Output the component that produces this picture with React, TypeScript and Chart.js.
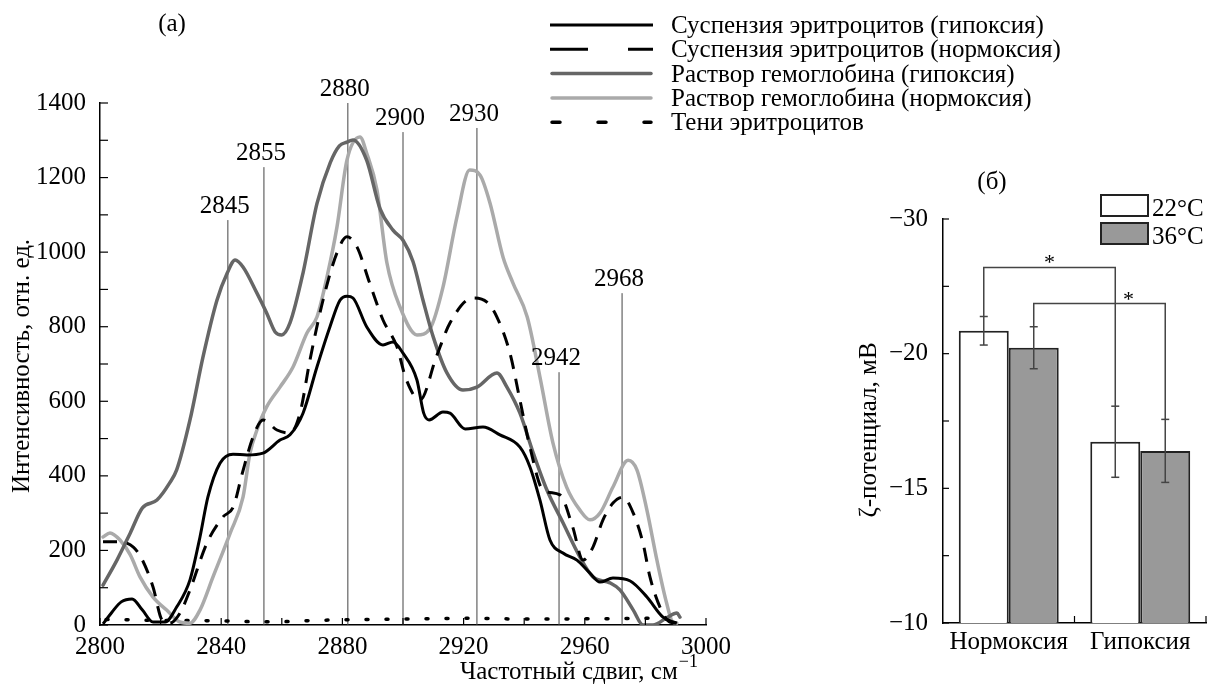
import React, { useEffect, useRef } from 'react';
import { Chart, registerables } from 'chart.js';

Chart.register(...registerables);

const FONT = '"Liberation Serif", "Times New Roman", serif';
const FS = 25;

// ---------- Panel (а): Raman spectra ----------
const legendLabelsA = [
  'Суспензия эритроцитов (гипоксия)',
  'Суспензия эритроцитов (нормоксия)',
  'Раствор гемоглобина (гипоксия)',
  'Раствор гемоглобина (нормоксия)',
  'Тени эритроцитов',
];

const susHypX = [2801, 2804, 2807, 2810.6, 2814, 2817.5, 2821.5, 2825.3, 2829.7, 2833, 2835.6, 2839.6, 2843.9, 2848.5, 2853.8, 2859.4, 2862.7, 2867, 2871.6, 2875.9, 2879.2, 2881.5, 2883.5, 2888, 2893.4, 2896.7, 2900, 2904.6, 2906.8, 2908.6, 2913.2, 2915.5, 2920.5, 2926.4, 2932, 2938.6, 2941.9, 2945.2, 2948.5, 2952.8, 2957.4, 2961.7, 2965, 2969.3, 2975, 2980.5, 2985.8, 2990.4];
const susHypY = [3, 35, 62, 70, 40, 8, 8, 48, 121, 236, 343, 434, 458, 456, 461, 496, 510, 568, 692, 800, 871, 882, 877, 800, 751, 759, 729, 657, 569, 550, 571, 568, 526, 531, 510, 477, 424, 335, 228, 193, 174, 139, 115, 126, 118, 75, 21, 5];

const susNorX = [2801, 2805.6, 2811, 2814, 2817.5, 2820.5, 2823, 2826.4, 2829.7, 2835.3, 2840.6, 2844, 2847, 2850.5, 2853.8, 2858.4, 2862.7, 2866, 2869.3, 2873.6, 2878.2, 2881.5, 2884.8, 2889, 2893.4, 2898, 2901, 2905.6, 2911, 2915.5, 2923, 2927.7, 2931, 2935.3, 2938.6, 2941.9, 2946.2, 2951.8, 2956, 2959.4, 2962.7, 2966, 2969.3, 2972.6, 2976, 2979.2, 2981.5, 2984.8, 2988, 2991.4];
const susNorY = [223, 223, 209, 174, 102, 13, 5, 32, 94, 220, 290, 317, 408, 504, 550, 523, 515, 568, 711, 871, 998, 1041, 1014, 917, 818, 746, 660, 603, 719, 810, 877, 866, 826, 729, 603, 477, 362, 349, 263, 174, 209, 282, 327, 343, 300, 220, 129, 48, 8, 5];

const hbHypX = [2801, 2805.6, 2810, 2814, 2818.8, 2823, 2825.3, 2829.7, 2834, 2838.6, 2842, 2844.6, 2847.2, 2851.8, 2855, 2857.8, 2860, 2862.7, 2867, 2871.6, 2876, 2879, 2881.5, 2883.5, 2888, 2892.4, 2896.7, 2900, 2903.3, 2906.6, 2910, 2914.5, 2919.8, 2924.4, 2931, 2934.3, 2938.6, 2943, 2947.5, 2952.8, 2958.4, 2962.7, 2968.3, 2971.6, 2976, 2979.2, 2982.5, 2987, 2990.4, 2991.4];
const hbHypY = [107, 174, 247, 314, 335, 381, 416, 550, 719, 871, 944, 979, 960, 890, 837, 786, 778, 810, 944, 1130, 1240, 1285, 1295, 1301, 1247, 1117, 1059, 1032, 975, 871, 772, 676, 630, 638, 676, 638, 568, 461, 362, 274, 182, 129, 113, 94, 40, 0, 0, 19, 32, 21];

const hbNorX = [2801, 2803.3, 2806.6, 2810, 2813.2, 2817.5, 2822, 2826.4, 2829.7, 2833, 2837.3, 2843, 2847.2, 2849.5, 2851.8, 2855, 2859.4, 2863.7, 2868.3, 2871.6, 2874.9, 2878.2, 2881.5, 2885.8, 2888, 2891.4, 2894.7, 2899, 2904.6, 2909, 2913.2, 2917.8, 2922, 2925.4, 2928.7, 2933, 2936.3, 2941, 2945.2, 2949.5, 2954, 2958.4, 2961.7, 2965, 2969.3, 2974.3, 2977.2, 2980.5, 2983.8, 2987, 2989, 2990.4];
const hbNorY = [236, 247, 228, 188, 129, 75, 40, 8, 5, 40, 129, 247, 343, 461, 523, 585, 638, 692, 783, 826, 933, 1067, 1247, 1309, 1266, 1167, 971, 853, 778, 796, 906, 1094, 1220, 1207, 1132, 987, 917, 826, 665, 488, 370, 308, 282, 300, 370, 442, 416, 308, 174, 59, 8, 5];

const ghostX = [2802, 2810, 2820, 2830, 2840, 2850, 2860, 2870, 2880, 2890, 2900, 2910, 2920, 2930, 2940, 2950, 2960, 2970, 2980, 2990];
const ghostY = [15, 14, 12, 12, 11, 9, 9, 12, 14, 15, 16, 17, 18, 17, 16, 16, 17, 17, 18, 14];

const refLineX = [2842.2, 2854.1, 2881.8, 2900, 2924.4, 2951.5, 2972.3];
const refLineTop = [1086, 1228, 1400, 1322, 1333, 678, 890];
const refLineLabels = ['2845', '2855', '2880', '2900', '2930', '2942', '2968'];

const xTicksA = [2800, 3000];
const yTicksA = [0, 1400];

// ---------- Panel (б): zeta potential ----------
const barCategories = ['Нормоксия', 'Гипоксия'];
const barLegend = ['22°C', '36°C'];
const zeta22 = [-20.85, -16.73];
const zeta36 = [-20.22, -16.39];
const err22 = [0.53, 1.32];
const err36 = [0.78, 1.17];
const barTickValues = [-10, -15, -20, -25];
const barTickLabels = ['−10', '−15', '−20', '−30'];
const bracketLevels = [-23.2, -21.86];

const styleA = [
  { color: '#000000', width: 3, dash: [] as number[], legendDash: [] as number[], cap: 'butt' },
  { color: '#000000', width: 3, dash: [14, 10], legendDash: [38, 40], cap: 'butt' },
  { color: '#666666', width: 3.5, dash: [] as number[], legendDash: [] as number[], cap: 'round' },
  { color: '#aaaaaa', width: 3.5, dash: [] as number[], legendDash: [] as number[], cap: 'round' },
  { color: '#000000', width: 3.5, dash: [2, 18], legendDash: [8, 38], cap: 'round' },
];

const zip = (xs: number[], ys: number[]) => xs.map((x, i) => ({ x, y: ys[i] }));

function drawLine(ctx: CanvasRenderingContext2D, x1: number, y1: number, x2: number, y2: number) {
  ctx.beginPath();
  ctx.moveTo(x1, y1);
  ctx.lineTo(x2, y2);
  ctx.stroke();
}

const panelAPlugin = {
  id: 'panelA',
  afterDraw(chart: any) {
    const { ctx, chartArea, scales } = chart;
    const xs = scales.x;
    const ys = scales.y;
    ctx.save();
    ctx.strokeStyle = '#000';
    ctx.lineWidth = 1.2;
    for (let v = yTicksA[0]; v <= yTicksA[1]; v += 100) {
      const y = ys.getPixelForValue(v);
      drawLine(ctx, chartArea.left, y, chartArea.left + 8, y);
    }
    for (let v = xTicksA[0]; v <= xTicksA[1]; v += 20) {
      const x = xs.getPixelForValue(v);
      drawLine(ctx, x, chartArea.bottom, x, chartArea.bottom - 7);
    }
    ctx.fillStyle = '#000';
    ctx.font = `${FS}px ${FONT}`;
    ctx.textAlign = 'center';
    ctx.textBaseline = 'alphabetic';
    refLineX.forEach((v, i) => {
      ctx.fillText(refLineLabels[i], xs.getPixelForValue(v) - 3, ys.getPixelForValue(refLineTop[i]) - 7);
    });
    ctx.fillText('(а)', 172, 31);

    // legend
    const lx1 = 550, lx2 = 653;
    legendLabelsA.forEach((lab, i) => {
      const y = 25 + i * 24.3;
      const s = styleA[i];
      ctx.save();
      ctx.strokeStyle = s.color;
      ctx.lineWidth = s.width;
      ctx.lineCap = s.cap as CanvasLineCap;
      ctx.setLineDash(s.legendDash);
      drawLine(ctx, lx1 + (s.cap === 'round' ? 2 : 0), y, lx2 - (s.cap === 'round' ? 2 : 0), y);
      ctx.restore();
      ctx.font = `${FS}px ${FONT}`;
      ctx.textAlign = 'left';
      ctx.fillText(lab, 671, y + 8);
    });

    // y title
    ctx.save();
    ctx.font = `${FS}px ${FONT}`;
    ctx.translate(22, 366);
    ctx.rotate(-Math.PI / 2);
    ctx.textAlign = 'center';
    ctx.textBaseline = 'middle';
    ctx.fillText('Интенсивность, отн. ед.', 0, 0);
    ctx.restore();

    // x title
    ctx.font = `${FS}px ${FONT}`;
    ctx.textAlign = 'left';
    const main = 'Частотный сдвиг, см';
    ctx.fillText(main, 460, 679);
    const w = ctx.measureText(main).width;
    ctx.font = `18px ${FONT}`;
    ctx.fillText('−1', 460 + w + 1, 667);
    ctx.restore();
  },
};

const panelBPlugin = {
  id: 'panelB',
  afterDraw(chart: any) {
    const { ctx, chartArea, scales } = chart;
    const xs = scales.x;
    const ys = scales.y;
    ctx.save();
    ctx.strokeStyle = '#000';
    ctx.lineWidth = 1.2;
    for (let v = -25; v <= -10 + 1e-6; v += 2.5) {
      const y = ys.getPixelForValue(v);
      drawLine(ctx, chartArea.left, y, chartArea.left + 6, y);
    }
    const mid = (xs.getPixelForValue(0) + xs.getPixelForValue(1)) / 2;
    drawLine(ctx, mid, chartArea.bottom, mid, chartArea.bottom - 7);
    drawLine(ctx, chartArea.right, chartArea.bottom, chartArea.right, chartArea.bottom - 7);

    const vals = [zeta22, zeta36];
    const errs = [err22, err36];
    // error bars
    ctx.strokeStyle = '#444';
    ctx.lineWidth = 1.5;
    for (let d = 0; d < 2; d++) {
      const meta = chart.getDatasetMeta(d);
      meta.data.forEach((bar: any, j: number) => {
        const top = ys.getPixelForValue(vals[d][j] - errs[d][j]);
        const bot = ys.getPixelForValue(vals[d][j] + errs[d][j]);
        drawLine(ctx, bar.x, top, bar.x, bot);
        drawLine(ctx, bar.x - 4, top, bar.x + 4, top);
        drawLine(ctx, bar.x - 4, bot, bar.x + 4, bot);
      });
    }
    // significance brackets
    const starFrac = [0.5, 0.72];
    ctx.fillStyle = '#000';
    for (let d = 0; d < 2; d++) {
      const meta = chart.getDatasetMeta(d);
      const x1 = meta.data[0].x;
      const x2 = meta.data[1].x;
      const yl = ys.getPixelForValue(bracketLevels[d]);
      const y1 = ys.getPixelForValue(vals[d][0] - errs[d][0]);
      const y2 = ys.getPixelForValue(vals[d][1] - errs[d][1]);
      ctx.beginPath();
      ctx.moveTo(x1, y1);
      ctx.lineTo(x1, yl);
      ctx.lineTo(x2, yl);
      ctx.lineTo(x2, y2);
      ctx.stroke();
      ctx.font = `22px ${FONT}`;
      ctx.textAlign = 'center';
      ctx.textBaseline = 'alphabetic';
      ctx.fillText('*', x1 + (x2 - x1) * starFrac[d], yl + 2);
    }

    // legend
    const fills = ['#ffffff', '#999999'];
    const boxY = [195, 223];
    barLegend.forEach((lab, i) => {
      ctx.fillStyle = fills[i];
      ctx.fillRect(271, boxY[i], 47, 21);
      ctx.strokeStyle = '#222';
      ctx.lineWidth = 2;
      ctx.strokeRect(271, boxY[i], 47, 21);
      ctx.fillStyle = '#000';
      ctx.font = `${FS}px ${FONT}`;
      ctx.textAlign = 'left';
      ctx.fillText(lab, 322, boxY[i] + 21);
    });

    ctx.font = `${FS}px ${FONT}`;
    ctx.textAlign = 'center';
    ctx.fillText('(б)', 162, 189);

    ctx.save();
    ctx.translate(39, 430);
    ctx.rotate(-Math.PI / 2);
    ctx.textBaseline = 'middle';
    ctx.fillText('ζ-потенциал, мВ', 0, 0);
    ctx.restore();
    ctx.restore();
  },
};

export default function App() {
  const refA = useRef<HTMLCanvasElement>(null);
  const refB = useRef<HTMLCanvasElement>(null);

  useEffect(() => {
    document.body.style.margin = '0';
    const seriesX = [susHypX, susNorX, hbHypX, hbNorX, ghostX];
    const seriesY = [susHypY, susNorY, hbHypY, hbNorY, ghostY];
    const curveSets: any[] = legendLabelsA.map((lab, i) => ({
      label: lab,
      data: zip(seriesX[i], seriesY[i]),
      borderColor: styleA[i].color,
      borderWidth: styleA[i].width,
      borderDash: styleA[i].dash,
      borderCapStyle: styleA[i].cap,
      pointRadius: 0,
      fill: false,
      cubicInterpolationMode: 'monotone',
    }));
    const refSets = refLineX.map((x, i) => ({
      label: 'ref' + refLineLabels[i],
      data: [{ x, y: 0 }, { x, y: refLineTop[i] }],
      borderColor: '#444',
      borderWidth: 1,
      pointRadius: 0,
      fill: false,
    }));

    const chartA = new Chart(refA.current!, {
      type: 'line',
      data: { datasets: [...curveSets, ...refSets] },
      options: {
        animation: false,
        responsive: false,
        devicePixelRatio: 1,
        layout: { padding: { left: 0, top: 103, right: 513, bottom: 0 } },
        plugins: { legend: { display: false }, tooltip: { enabled: false } },
        scales: {
          x: {
            type: 'linear',
            min: xTicksA[0],
            max: xTicksA[1],
            grid: { display: false },
            border: { display: true, color: '#000', width: 1.5 },
            ticks: {
              stepSize: 40,
              color: '#000',
              padding: -1,
              maxRotation: 0,
              autoSkip: false,
              font: { family: FONT, size: FS },
              callback: (v: any) => String(v),
            },
            afterFit: (s: any) => { s.height = 66; },
          },
          y: {
            type: 'linear',
            min: yTicksA[0],
            max: yTicksA[1],
            grid: { display: false },
            border: { display: true, color: '#000', width: 1.5 },
            ticks: {
              stepSize: 200,
              color: '#000',
              padding: 6,
              font: { family: FONT, size: FS },
              callback: (v: any) => String(v),
            },
            afterFit: (s: any) => { s.width = 100; },
          },
        },
      } as any,
      plugins: [panelAPlugin],
    });

    const chartB = new Chart(refB.current!, {
      type: 'bar',
      data: {
        labels: barCategories,
        datasets: [
          { label: barLegend[0], data: zeta22, backgroundColor: '#ffffff', borderColor: '#222', borderWidth: 2 },
          { label: barLegend[1], data: zeta36, backgroundColor: '#999999', borderColor: '#222', borderWidth: 2 },
        ],
      },
      options: {
        animation: false,
        responsive: false,
        devicePixelRatio: 1,
        layout: { padding: { left: 0, top: 219, right: 13, bottom: 0 } },
        plugins: { legend: { display: false }, tooltip: { enabled: false } },
        datasets: { bar: { categoryPercentage: 0.76, barPercentage: 1 } },
        scales: {
          x: {
            grid: { display: false },
            border: { display: true, color: '#000', width: 1.5 },
            ticks: { color: '#000', padding: -4, font: { family: FONT, size: FS } },
            afterFit: (s: any) => { s.height = 68; },
          },
          y: {
            type: 'linear',
            min: -25,
            max: -10,
            reverse: true,
            grid: { display: false },
            border: { display: true, color: '#000', width: 1.5 },
            ticks: {
              stepSize: 2.5,
              color: '#000',
              padding: 7,
              autoSkip: false,
              font: { family: FONT, size: FS },
              callback: (v: any) => {
                const k = barTickValues.findIndex((t) => Math.abs(t - Number(v)) < 1e-6);
                return k >= 0 ? barTickLabels[k] : '';
              },
            },
            afterFit: (s: any) => { s.width = 113; },
          },
        },
      } as any,
      plugins: [panelBPlugin],
    });

    return () => {
      chartA.destroy();
      chartB.destroy();
    };
  }, []);

  return (
    <div style={{ position: 'absolute', left: 0, top: 0, width: 1219, height: 691, background: '#fff' }}>
      <canvas ref={refA} width={1219} height={691} style={{ position: 'absolute', left: 0, top: 0, width: 1219, height: 691 }} />
      <canvas ref={refB} width={389} height={691} style={{ position: 'absolute', left: 830, top: 0, width: 389, height: 691 }} />
    </div>
  );
}
